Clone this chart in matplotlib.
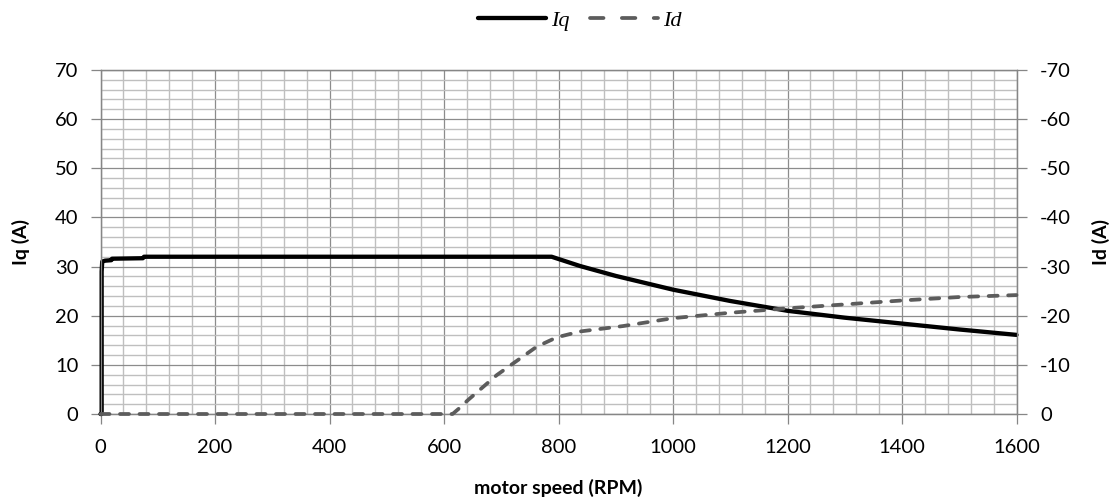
import numpy as np
import matplotlib.pyplot as plt
from matplotlib.lines import Line2D
from matplotlib.ticker import MultipleLocator

# q-axis current vs speed (RPM, A)
iq_rpm = [0, 2, 2, 3, 8, 19, 20, 74, 76, 788, 838, 900, 1000, 1100, 1200, 1300, 1400, 1500, 1600]
iq_amp = [0, 0, 29.0, 31.0, 31.2, 31.3, 31.6, 31.7, 32.0, 32.0, 30.1, 28.1, 25.3, 23.0, 21.0, 19.6, 18.4, 17.2, 16.1]

# d-axis current vs speed (RPM, A) - negative, field weakening
id_rpm = [0, 615, 625, 642, 692, 733, 762, 797, 838, 913, 1000, 1100, 1200, 1300, 1400, 1500, 1600]
id_amp = [0, 0, -1.0, -2.85, -7.9, -11.3, -13.7, -15.6, -16.8, -17.9, -19.5, -20.6, -21.5, -22.3, -23.1, -23.8, -24.2]

GRAY = '#868686'

plt.rcParams['font.family'] = ['Lato', 'DejaVu Sans']
plt.rcParams['axes.unicode_minus'] = False

fig = plt.figure(figsize=(11.16, 5.01), dpi=100)
ax1 = fig.add_axes([100.5 / 1116, 87 / 501, 916 / 1116, 344 / 501])
ax2 = ax1.twinx()

ax1.set_xlim(0, 1600)
ax1.set_ylim(0, 70)
ax2.set_ylim(0, -70)

ax1.xaxis.set_major_locator(MultipleLocator(200))
ax1.xaxis.set_minor_locator(MultipleLocator(40))
ax1.yaxis.set_major_locator(MultipleLocator(10))
ax1.yaxis.set_minor_locator(MultipleLocator(2))
ax2.yaxis.set_major_locator(MultipleLocator(10))

ax1.grid(which='minor', color='#bfbfbf', lw=1.0)
ax1.grid(which='major', color='#8c8c8c', lw=0.9)
ax1.set_axisbelow(True)

for a in (ax1, ax2):
    for s in a.spines.values():
        s.set_color(GRAY)
        s.set_linewidth(0.9)
    a.tick_params(which='major', length=7, width=0.9, color=GRAY, labelsize=14.5, labelcolor='black')
    a.tick_params(which='minor', length=0)
ax1.tick_params(axis='y', pad=9)
ax1.tick_params(axis='x', pad=11)
ax2.tick_params(axis='y', pad=10)

ax1.plot(iq_rpm, iq_amp, color='black', lw=3.1, solid_capstyle='round', solid_joinstyle='round',
         clip_on=False, zorder=3)
ax2.plot(id_rpm, id_amp, color='#5c5c5c', lw=2.7, linestyle=(0, (2.4, 2.8)),
         dash_capstyle='round', clip_on=False, zorder=3)

ax1.set_xlabel('motor speed (RPM)', fontsize=14, fontweight='bold')
ax1.set_ylabel('Iq (A)', fontsize=14, fontweight='bold')
ax2.set_ylabel('Id (A)', fontsize=14, fontweight='bold', rotation=90)
ax1.xaxis.set_label_coords(0.5, -0.215)
ax1.xaxis.label.set_va('center')
ax1.yaxis.set_label_coords(-0.0868, 0.5)
ax1.yaxis.label.set_va('center')
ax2.yaxis.set_label_coords(1.0922, 0.5)
ax2.yaxis.label.set_va('center')

handles = [
    Line2D([], [], color='black', lw=3.1, solid_capstyle='round'),
    Line2D([], [], color='#5c5c5c', lw=2.7, linestyle=(0, (3.6, 4.9)), dash_capstyle='round'),
]
fig.legend(handles, ['Iq', 'Id'], loc='center', bbox_to_anchor=(580 / 1116, 1 - 21 / 501),
           ncol=2, frameon=False, handlelength=3.06, handletextpad=0.25, columnspacing=0.9,
           prop={'family': 'Liberation Serif', 'style': 'italic', 'size': 16})

fig.savefig('out.png', dpi=100)
